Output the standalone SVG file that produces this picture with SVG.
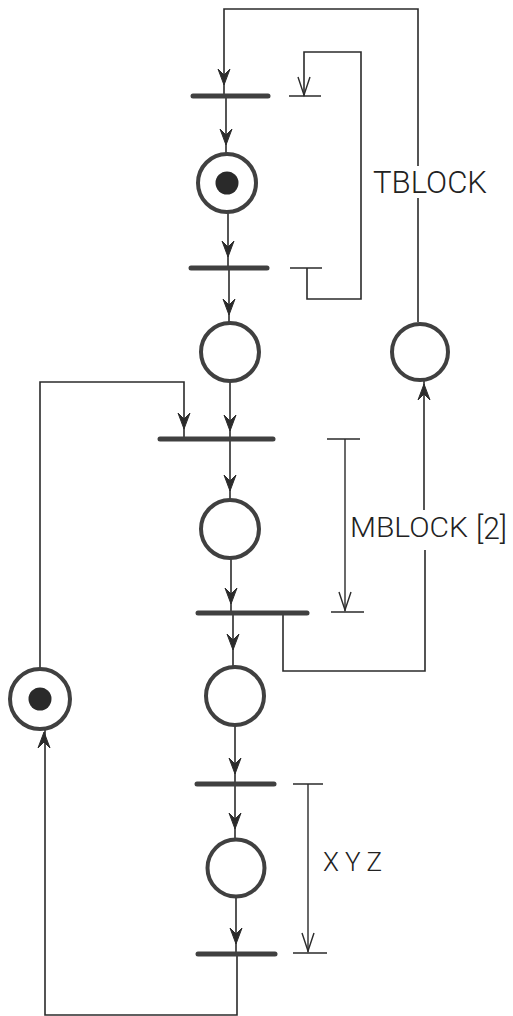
<svg xmlns="http://www.w3.org/2000/svg" xmlns:xlink="http://www.w3.org/1999/xlink" width="513" height="1016" viewBox="0 0 513 1016">
  <style>
    .arc { fill: none; stroke: #2b2b2b; stroke-width: 1.6; stroke-linejoin: miter; }
    .place { fill: #fff; stroke: #404040; stroke-width: 4; }
    .token { fill: #2a2a2a; }
    .trans { stroke: #404040; stroke-width: 5; stroke-linecap: round; }
    .tick { stroke: #2b2b2b; stroke-width: 1.4; }
    .ah { fill: #2b2b2b; stroke: #2b2b2b; stroke-width: 1; }
    .vo { fill: none; stroke: #2b2b2b; stroke-width: 1.4; }
    .lbl { font-family: Roboto, "Liberation Sans", Arial, sans-serif; font-weight: 300; fill: #222; }
  </style>
  <defs>
    <path id="ahDown" class="ah" d="M0,0 L-6,-16 L0,-10 L6,-16 Z"/>
    <path id="ahUp" class="ah" d="M0,0 L-6,16 L0,10 L6,16 Z"/>
    <path id="vDown" class="vo" d="M-6,-18 L0,0 L6,-18"/>
  </defs>
  <rect width="513" height="1016" fill="#fff"/>

  <g id="connectors">
    <path class="arc" d="M418,322 V198 M418,166 V9 H224 V96"/>
    <path class="arc" d="M226,96 V153"/>
    <path class="arc" d="M228,213 V268"/>
    <path class="arc" d="M229,268 V322"/>
    <path class="arc" d="M230,382 V439"/>
    <path class="arc" d="M40,668 V382 H184 V439"/>
    <path class="arc" d="M230,439 V499"/>
    <path class="arc" d="M231,559 V613"/>
    <path class="arc" d="M233,613 V666"/>
    <path class="arc" d="M283,613 V671 H425 V550 M424,510 V381"/>
    <path class="arc" d="M235,726 V784"/>
    <path class="arc" d="M235,784 V839"/>
    <path class="arc" d="M236,897 V954"/>
    <path class="arc" d="M237,954 V1015 H45 V730"/>

    <use xlink:href="#ahDown" x="224" y="85"/>
    <use xlink:href="#ahDown" x="226" y="145"/>
    <use xlink:href="#ahDown" x="228" y="257"/>
    <use xlink:href="#ahDown" x="229" y="315"/>
    <use xlink:href="#ahDown" x="230" y="431"/>
    <use xlink:href="#ahDown" x="184" y="429"/>
    <use xlink:href="#ahDown" x="230" y="491"/>
    <use xlink:href="#ahDown" x="231" y="604"/>
    <use xlink:href="#ahDown" x="233" y="650"/>
    <use xlink:href="#ahDown" x="235" y="774"/>
    <use xlink:href="#ahDown" x="235" y="829"/>
    <use xlink:href="#ahDown" x="236" y="944"/>
    <use xlink:href="#ahUp" x="44" y="732"/>
    <use xlink:href="#ahUp" x="424" y="384"/>

    <path class="tick" d="M289,96 H321 M290,268 H322"/>
    <path class="arc" d="M304,96 V52 H361 V299 H307 V268"/>
    <use xlink:href="#vDown" x="304" y="95"/>
    <path class="tick" d="M327,439 H360 M331,612 H364 M345,439 V611"/>
    <use xlink:href="#vDown" x="345" y="610"/>
    <path class="tick" d="M293,784 H323 M293,953 H327 M308,784 V952"/>
    <use xlink:href="#vDown" x="308" y="951"/>
  </g>

  <g id="T1"><line class="trans" x1="193" y1="96" x2="268" y2="96"/></g>
  <g id="P1"><circle class="place" cx="227" cy="183" r="29"/><circle class="token" cx="227" cy="183" r="11.5"/></g>
  <g id="T2"><line class="trans" x1="191" y1="268" x2="267" y2="268"/></g>
  <g id="P2"><circle class="place" cx="230" cy="352" r="29"/></g>
  <g id="P-right"><circle class="place" cx="420" cy="352" r="28"/></g>
  <g id="T3"><line class="trans" x1="160" y1="439" x2="273" y2="439"/></g>
  <g id="P3"><circle class="place" cx="230" cy="529" r="29"/></g>
  <g id="T4"><line class="trans" x1="198" y1="613" x2="307" y2="613"/></g>
  <g id="P-left"><circle class="place" cx="40" cy="699" r="30"/><circle class="token" cx="40" cy="699" r="11.5"/></g>
  <g id="P4"><circle class="place" cx="235" cy="696" r="29"/></g>
  <g id="T5"><line class="trans" x1="197" y1="784" x2="274" y2="784"/></g>
  <g id="P5"><circle class="place" cx="236" cy="868" r="28.5"/></g>
  <g id="T6"><line class="trans" x1="198" y1="954" x2="275" y2="954"/></g>

  <g id="labels">
    <text class="lbl" x="373" y="193" font-size="31" textLength="114" lengthAdjust="spacingAndGlyphs">TBLOCK</text>
    <text class="lbl" x="350" y="537" font-size="27" textLength="118" lengthAdjust="spacingAndGlyphs">MBLOCK</text>
    <text class="lbl" x="476" y="539" font-size="32" textLength="31" lengthAdjust="spacingAndGlyphs">[2]</text>
    <text class="lbl" x="323" y="871" font-size="26" textLength="59" lengthAdjust="spacing">XYZ</text>
  </g>
</svg>
